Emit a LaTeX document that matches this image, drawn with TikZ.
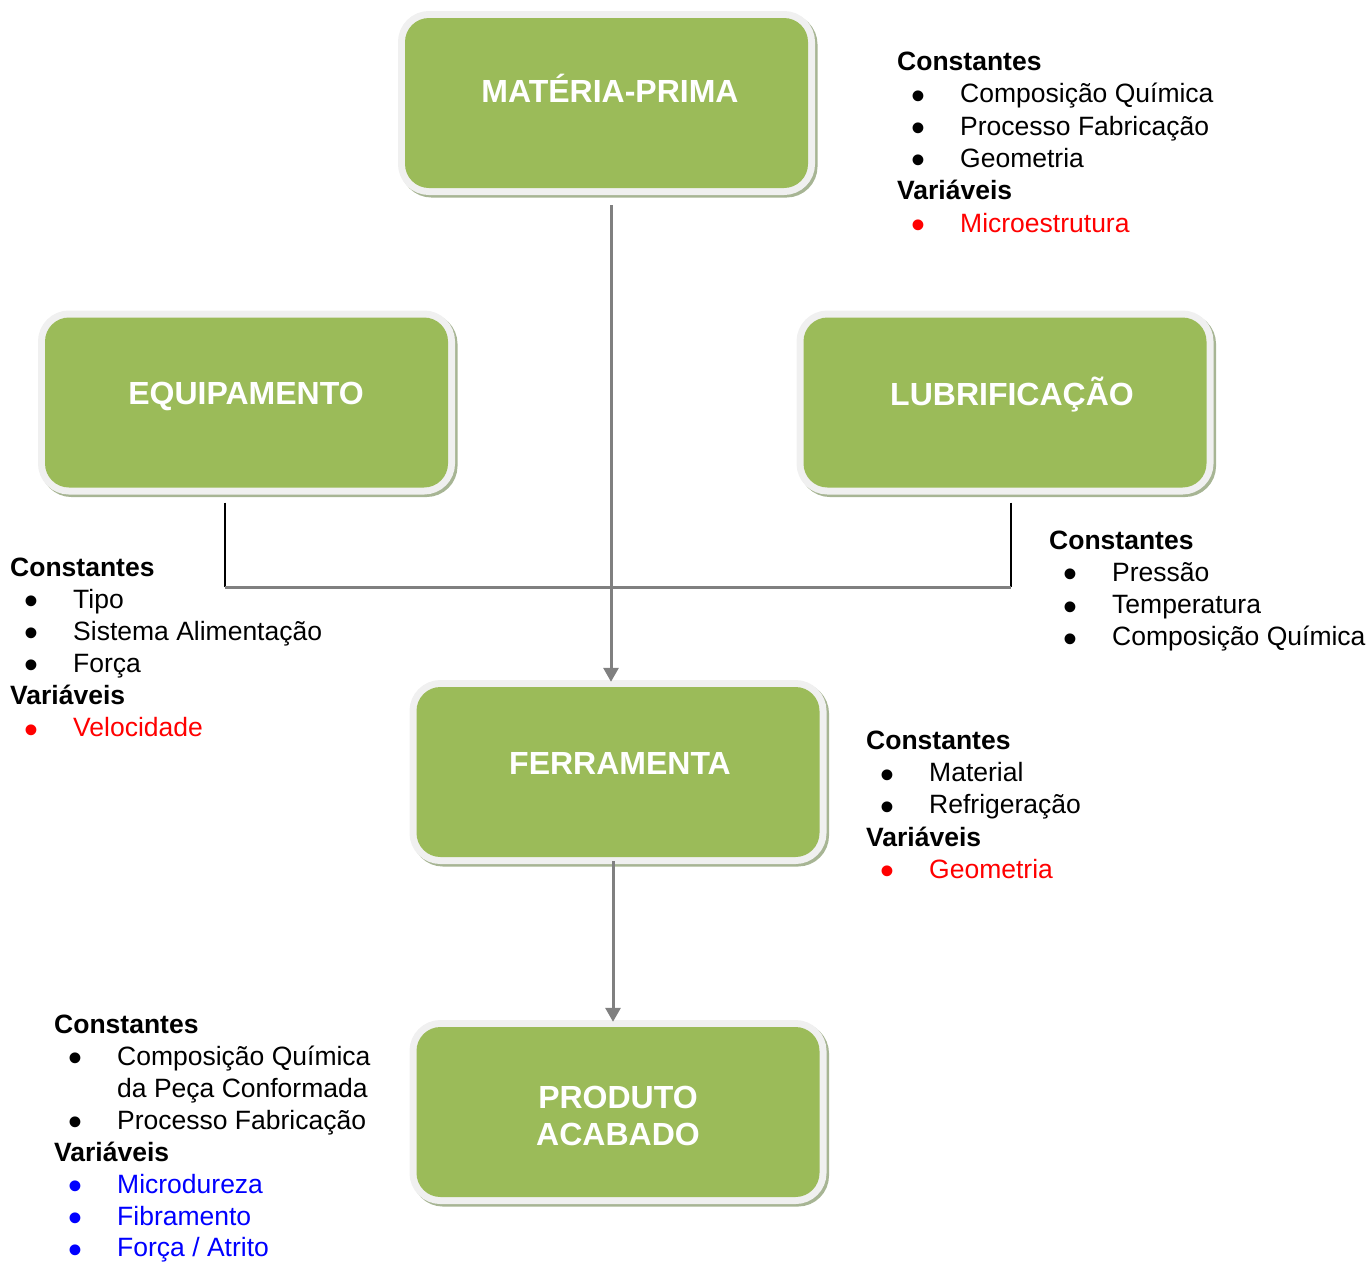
\documentclass[tikz,border=0pt]{standalone}
\usepackage{fontspec}
\setmainfont{Liberation Sans}
\usetikzlibrary{arrows.meta,calc}
\definecolor{boxgreen}{HTML}{9BBB59}
\definecolor{framegray}{HTML}{F0F0F0}
\definecolor{shadowgreen}{HTML}{A7B594}
\definecolor{linegray}{HTML}{808080}
\definecolor{txtred}{HTML}{FF0000}
\definecolor{txtblue}{HTML}{0000FF}
\tikzset{
  gbox/.style={rectangle, rounded corners=24pt, minimum width=403pt, minimum height=170pt, inner sep=0pt,
    preaction={draw=shadowgreen, line width=14pt, transform canvas={shift={(2.5pt,-2.5pt)}}},
    preaction={draw=framegray, line width=14pt},
    fill=boxgreen},
  gtitle/.style={anchor=base, text=white, font=\fontsize{32}{37}\selectfont\bfseries, inner sep=0pt},
  txt/.style={anchor=base west, inner sep=0pt, font=\fontsize{26.5}{32}\selectfont},
  hdr/.style={txt, font=\fontsize{26.5}{32}\selectfont\bfseries},
  flow/.style={draw=linegray, line width=3pt},
  flowarrow/.style={flow, -{Triangle[width=15pt,length=14pt]}},
  blk/.style={draw=black, line width=2pt}
}
\newcommand{\bigbul}{\smash{\raisebox{-6.5pt}{\scalebox{1.5}{\textbullet}}}}
\newcommand{\bitem}[1]{\hspace*{21pt}\makebox[0pt]{\bigbul}\hspace*{42pt}#1}
\begin{document}
\begin{tikzpicture}[x=1pt,y=-1pt]
\useasboundingbox (0,0) rectangle (1370,1261);

% boxes
\node[gbox] (mp)   at (606.5,103) {};
\node[gbox] (eq)   at (246.5,402.5) {};
\node[gbox] (lub)  at (1005,402.5) {};
\node[gbox] (ferr) at (618,772) {};
\node[gbox] (prod) at (618,1112) {};

% titles
\node[gtitle] (mpt)   at (610,102)  {MATÉRIA-PRIMA};
\node[gtitle] (eqt)   at (246,404.5) {EQUIPAMENTO};
\node[gtitle] (lubt)  at (1012,405) {LUBRIFICAÇÃO};
\node[gtitle] (ferrt) at (620,774) {FERRAMENTA};
\node[gtitle] (prodt1) at (618,1108.5) {PRODUTO};
\node[gtitle] (prodt2) at (618,1145.5) {ACABADO};

% connectors
\draw[blk] ($(eq.south)+(-21.5,15)$) coordinate (eqdown) -- ($(eq.south)+(-21.5,99.5)$) coordinate (eqjoin);
\draw[blk] ($(lub.south)+(6,15)$) coordinate (lubdown) -- ($(lub.south)+(6,99.5)$) coordinate (lubjoin);
\draw[flow] (eqjoin) -- (lubjoin);
\draw[flowarrow] ($(mp.south)+(4.5,17)$) -- ($(ferr.north)+(-7,-5)$);
\draw[flowarrow] ($(ferr.south)+(-5,4)$) -- ($(prod.north)+(-5,-5)$);

% info: materia-prima
\node[hdr] (a0) at (897,70.5)    {Constantes};
\node[txt] (a1) at (897,102.8) {\bitem{Composição Química}};
\node[txt] (a2) at (897,135.1) {\bitem{Processo Fabricação}};
\node[txt] (a3) at (897,167.4) {\bitem{Geometria}};
\node[hdr] (a4) at (897,199.7) {Variáveis};
\node[txt, text=txtred] (a5) at (897,232) {\bitem{Microestrutura}};

% info: equipamento
\node[hdr] (b0) at (10,576)   {Constantes};
\node[txt] (b1) at (10,608.1) {\bitem{Tipo}};
\node[txt] (b2) at (10,640.2) {\bitem{Sistema Alimentação}};
\node[txt] (b3) at (10,672.3) {\bitem{Força}};
\node[hdr] (b4) at (10,704.4) {Variáveis};
\node[txt, text=txtred] (b5) at (10,736.5) {\bitem{Velocidade}};

% info: lubrificacao
\node[hdr] (c0) at (1049,549)   {Constantes};
\node[txt] (c1) at (1049,581.3) {\bitem{Pressão}};
\node[txt] (c2) at (1049,613.6) {\bitem{Temperatura}};
\node[txt] (c3) at (1049,645.9) {\bitem{Composição Química}};

% info: ferramenta
\node[hdr] (d0) at (866,749.5)   {Constantes};
\node[txt] (d1) at (866,781.7) {\bitem{Material}};
\node[txt] (d2) at (866,813.9) {\bitem{Refrigeração}};
\node[hdr] (d3) at (866,846.1) {Variáveis};
\node[txt, text=txtred] (d4) at (866,878.3) {\bitem{Geometria}};

% info: produto acabado
\node[hdr] (e0) at (54,1033)   {Constantes};
\node[txt] (e1) at (54,1065) {\bitem{Composição Química}};
\node[txt] (e2) at (54,1097) {\hspace*{63pt}da Peça Conformada};
\node[txt] (e3) at (54,1129) {\bitem{Processo Fabricação}};
\node[hdr] (e4) at (54,1161) {Variáveis};
\node[txt, text=txtblue] (e5) at (54,1193) {\bitem{Microdureza}};
\node[txt, text=txtblue] (e6) at (54,1225) {\bitem{Fibramento}};
\node[txt, text=txtblue] (e7) at (54,1256.5) {\bitem{Força / Atrito}};
\end{tikzpicture}
\end{document}
